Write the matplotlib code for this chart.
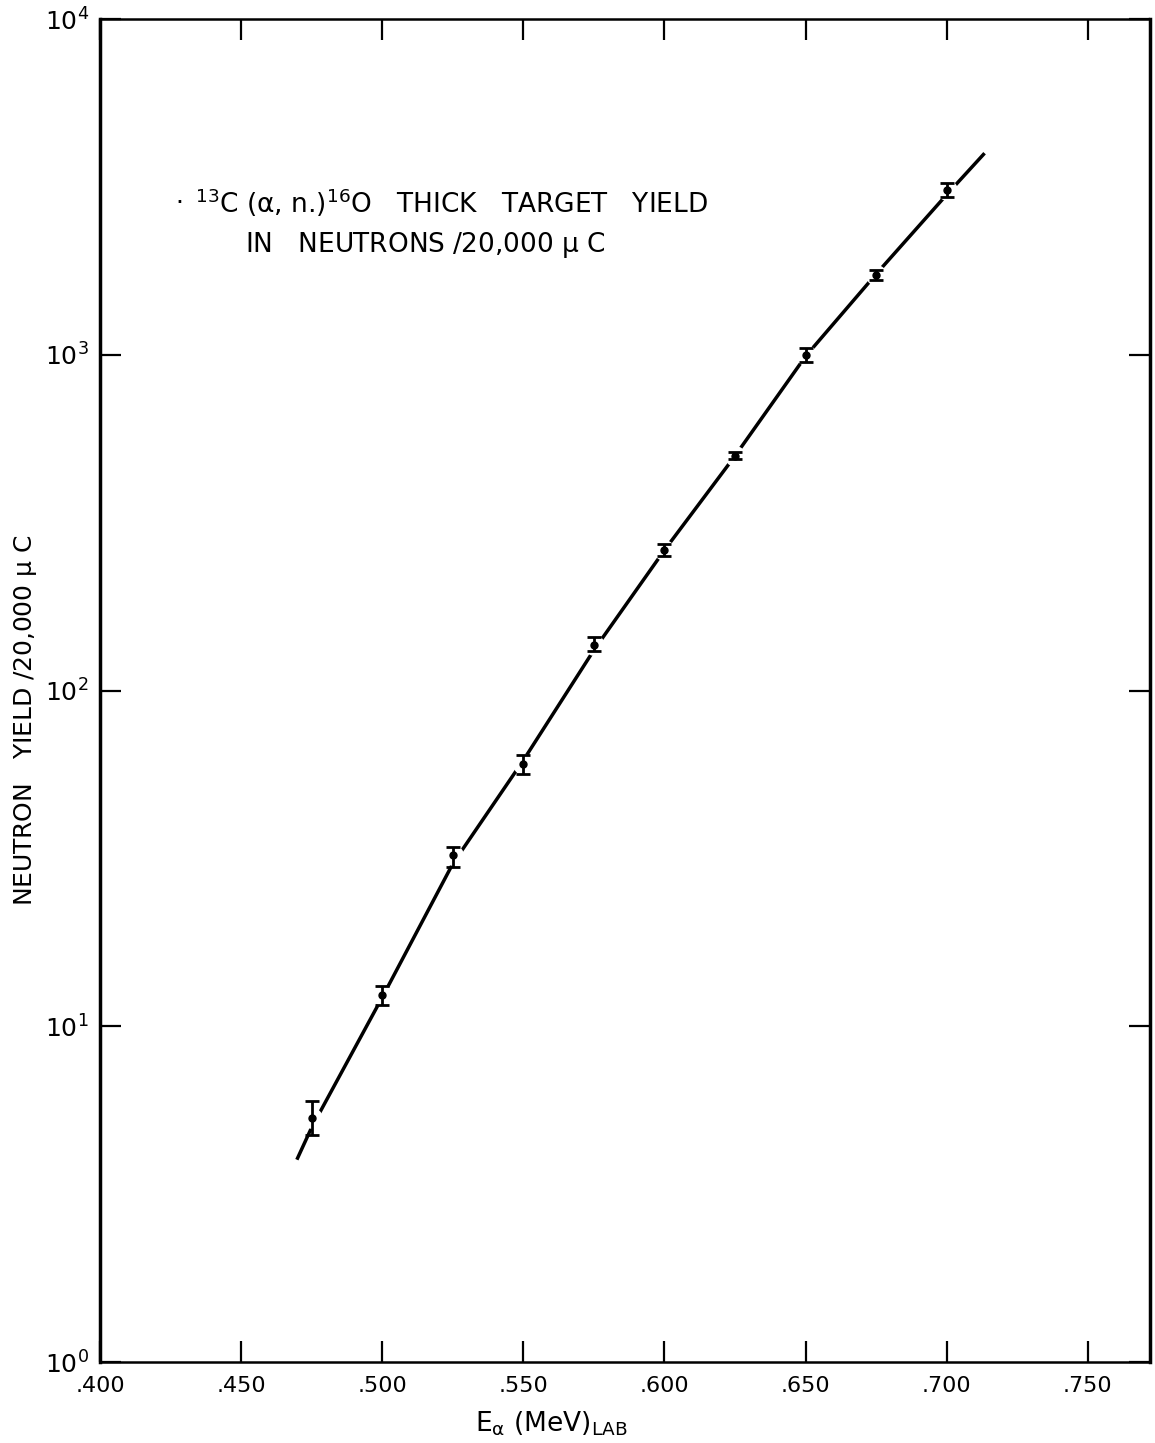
import matplotlib
matplotlib.use("Agg")
import matplotlib.pyplot as plt
from matplotlib.ticker import FixedLocator, NullLocator, FixedFormatter

plt.rcParams['font.family'] = ['DejaVu Sans']
plt.rcParams['mathtext.default'] = 'regular'

# данные
energy = [0.475, 0.500, 0.525, 0.550, 0.575, 0.600, 0.625, 0.650, 0.675, 0.700]
yield_n = [5.35, 12.4, 32.3, 60.6, 137, 263, 500, 1000, 1730, 3100]
err_low = [0.6, 0.8, 2.4, 4.0, 6.0, 11, 12, 47, 58, 150]
err_high = [0.65, 0.8, 2.0, 3.5, 7.0, 11, 12, 50, 60, 150]

# узлы гладкой кривой
curve_x = [0.470, 0.475, 0.500, 0.525, 0.550, 0.575, 0.600, 0.625, 0.650, 0.675, 0.700, 0.713]
curve_y = [4.05, 5.0, 12.2, 30.5, 62.0, 132, 262, 500, 990, 1740, 3000, 3950]

x_ticks = [0.400, 0.450, 0.500, 0.550, 0.600, 0.650, 0.700, 0.750]
x_labels = ['.400', '.450', '.500', '.550', '.600', '.650', '.700', '.750']
y_ticks = [1, 10, 100, 1000, 10000]
y_labels = ['$10^0$', '$10^1$', '$10^2$', '$10^3$', '$10^4$']

fig = plt.figure(figsize=(11.55, 14.43), dpi=100)
ax = fig.add_axes([0.0866, 0.0561, 0.909, 0.9307])

ax.plot(curve_x, curve_y, color='black', lw=2.5, zorder=2)
# белые "окна" вокруг точек, как на чертеже
ax.plot(energy, yield_n, 'o', ms=15, mfc='white', mec='none', zorder=3)
ax.errorbar(energy, yield_n, yerr=[err_low, err_high], fmt='o', ms=5,
            color='black', ecolor='black', elinewidth=2, capsize=5,
            capthick=2, zorder=4)

ax.set_yscale('log')
ax.set_xlim(0.400, 0.772)
ax.set_ylim(1, 1e4)

ax.xaxis.set_major_locator(FixedLocator(x_ticks))
ax.xaxis.set_major_formatter(FixedFormatter(x_labels))
ax.yaxis.set_major_locator(FixedLocator(y_ticks))
ax.yaxis.set_major_formatter(FixedFormatter(y_labels))
ax.yaxis.set_minor_locator(NullLocator())
ax.xaxis.set_minor_locator(NullLocator())

ax.tick_params(direction='in', length=15, width=1.6, top=True, right=True,
               labelsize=16, pad=10)
ax.tick_params(axis='y', labelsize=18, pad=8)
for side in ['left', 'right']:
    ax.spines[side].set_linewidth(2.5)
for side in ['top', 'bottom']:
    ax.spines[side].set_linewidth(1.8)

ax.set_xlabel(r'E$_\alpha$ (MeV)$_{LAB}$', fontsize=19)
ax.xaxis.set_label_coords(0.43, -0.035)
ax.set_ylabel(r'NEUTRON   YIELD /20,000 $\mu$ C', fontsize=18)
ax.yaxis.set_label_coords(-0.058, 0.478)

ax.text(0.072, 0.863, '\u00b7', transform=ax.transAxes, fontsize=18,
        ha='left', va='center')
ax.text(0.09, 0.863, r'$^{13}$C ($\alpha$, n.)$^{16}$O   THICK   TARGET   YIELD',
        transform=ax.transAxes, fontsize=19, ha='left', va='center')
ax.text(0.138, 0.832, r'IN   NEUTRONS /20,000 $\mu$ C',
        transform=ax.transAxes, fontsize=19, ha='left', va='center')

fig.savefig('out.png', dpi=100)
